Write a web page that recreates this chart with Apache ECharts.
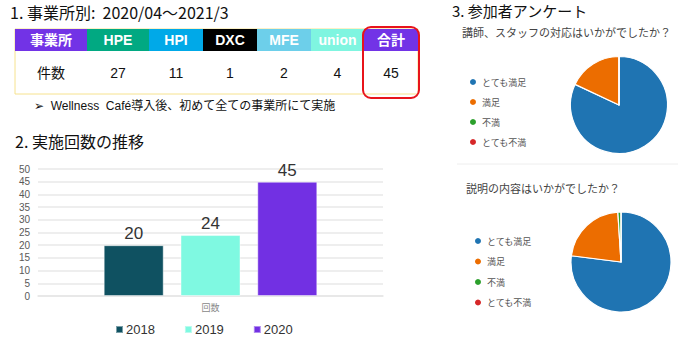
<!DOCTYPE html>
<html><head><meta charset="utf-8">
<script src="https://cdn.jsdelivr.net/npm/echarts@6/dist/echarts.min.js"></script>
<style>html,body{margin:0;padding:0;background:#fff}#c{width:685px;height:341px}</style>
</head><body><div id="c"></div>
<script>
// ---- data ----
const tableHeaders = ['事業所', 'HPE', 'HPI', 'DXC', 'MFE', 'union', '合計'];
const tableValues = ['件数', 27, 11, 1, 2, 4, 45];
const barCategories = ['回数'];
const barYears = ['2018', '2019', '2020'];
const barValues = [20, 24, 45];
const pieNames = ['とても満足', '満足', '不満', 'とても不満'];
const pie1Values = [82, 18, 0, 0];
const pie2Values = [77, 22, 1, 0];
const yTicks = [0, 5, 10, 15, 20, 25, 30, 35, 40, 45, 50];

// ---- styles ----
const FONT = '"Liberation Sans", "Noto Sans CJK JP", sans-serif';
const JFONT = '"Noto Sans CJK JP", "Liberation Sans", sans-serif';
const headerColors = ['#7233E6', '#01A982', '#00A9E8', '#000000', '#6DCFEA', '#7FF5E0', '#7233E6'];
const colEdges = [15, 87, 149, 203, 257, 311, 364, 418];
const barColors = ['#0F5161', '#7FF9E1', '#7230E3'];
const pieColors = ['#1F74B2', '#EC6D00', '#2CA02C', '#D62728'];

const chart = echarts.init(document.getElementById('c'), null, {renderer: 'svg'});

const graphics = [];
// titles
graphics.push({type: 'text', left: 10, top: 4, style: {text: '1. 事業所別:  2020/04～2021/3', font: '16px ' + JFONT, fill: '#111'}});
graphics.push({type: 'text', left: 15, top: 133, style: {text: '2. 実施回数の推移', font: '16px ' + JFONT, fill: '#111'}});
graphics.push({type: 'text', left: 452, top: 3, style: {text: '3. 参加者アンケート', font: '15px ' + JFONT, fill: '#111'}});
graphics.push({type: 'text', left: 462, top: 26, style: {text: '講師、スタッフの対応はいかがでしたか？', font: '11px ' + JFONT, fill: '#444'}});
graphics.push({type: 'text', left: 466, top: 182, style: {text: '説明の内容はいかがでしたか？', font: '11px ' + JFONT, fill: '#444'}});
graphics.push({type: 'line', shape: {x1: 457, y1: 164, x2: 678, y2: 164}, style: {stroke: '#EEEEEE', lineWidth: 1}});
// table
graphics.push({type: 'rect', shape: {x: 15, y: 29, width: 403, height: 65}, style: {fill: '#fff', stroke: '#F6E28E', lineWidth: 1}});
tableHeaders.forEach((h, i) => {
  const x0 = colEdges[i], x1 = colEdges[i + 1];
  graphics.push({type: 'rect', shape: {x: x0, y: 29, width: x1 - x0, height: 22}, style: {fill: headerColors[i]}});
  graphics.push({type: 'text', x: (x0 + x1) / 2, y: 40, style: {text: h, font: 'bold 14px ' + FONT, fill: '#fff', textAlign: 'center', textVerticalAlign: 'middle'}});
  graphics.push({type: 'text', x: (x0 + x1) / 2, y: 73, style: {text: String(tableValues[i]), font: '14px ' + FONT, fill: '#111', textAlign: 'center', textVerticalAlign: 'middle'}});
});
graphics.push({type: 'rect', shape: {x: 363, y: 27, width: 56, height: 71, r: 8}, style: {fill: 'none', stroke: '#E8141B', lineWidth: 2}});
graphics.push({type: 'text', left: 34, top: 100, style: {text: '➢  Wellness  Café導入後、初めて全ての事業所にて実施', font: '12px ' + FONT, fill: '#111'}});

const option = {
  animation: false,
  textStyle: {fontFamily: FONT},
  graphic: graphics,
  grid: {left: 38, top: 169, width: 345, height: 127},
  legend: [
    {data: barYears, left: 110, top: 318, itemWidth: 7, itemHeight: 7, itemGap: 29, icon: 'rect',
     textStyle: {fontSize: 13, color: '#333', padding: [0, 0, 0, -2]}},
    {data: pieNames, orient: 'vertical', left: 463, top: 72, itemWidth: 8, itemHeight: 8, itemGap: 10, icon: 'circle',
     textStyle: {fontSize: 9, color: '#555', lineHeight: 10, fontFamily: JFONT}},
    {data: pieNames, orient: 'vertical', left: 468, top: 231, itemWidth: 8, itemHeight: 8, itemGap: 10.5, icon: 'circle',
     textStyle: {fontSize: 9, color: '#555', lineHeight: 10, fontFamily: JFONT}}
  ],
  xAxis: {type: 'category', data: barCategories,
    axisLine: {lineStyle: {color: '#E6E6E6', width: 1.5}}, axisTick: {show: false},
    axisLabel: {fontSize: 9, color: '#888', margin: 7, fontFamily: JFONT}},
  yAxis: {type: 'value', min: yTicks[0], max: yTicks[yTicks.length - 1], interval: 5,
    axisLabel: {fontSize: 10, color: '#595959', margin: 8},
    splitLine: {lineStyle: {color: '#E8E8E8', width: 1.5}}},
  series: [
    ...barYears.map((y, i) => ({
      type: 'bar', name: y, data: [barValues[i]], barWidth: 60, barGap: '28%',
      itemStyle: {color: barColors[i], borderColor: 'rgba(255,255,255,0.45)', borderWidth: 1},
      label: {show: true, position: 'top', fontSize: 17, color: '#333', distance: 3}
    })),
    {type: 'pie', center: [619, 105], radius: 48.5, startAngle: 90, clockwise: true,
     label: {show: false}, labelLine: {show: false}, silent: true,
     itemStyle: {borderColor: '#fff', borderWidth: 1.2},
     data: pieNames.map((n, i) => ({name: n, value: pie1Values[i], itemStyle: {color: pieColors[i]}}))},
    {type: 'pie', center: [621, 262], radius: 50, startAngle: 90, clockwise: true,
     label: {show: false}, labelLine: {show: false}, silent: true,
     itemStyle: {borderColor: '#fff', borderWidth: 1.2},
     data: pieNames.map((n, i) => ({name: n, value: pie2Values[i], itemStyle: {color: pieColors[i]}}))}
  ]
};
chart.setOption(option);
</script></body></html>
